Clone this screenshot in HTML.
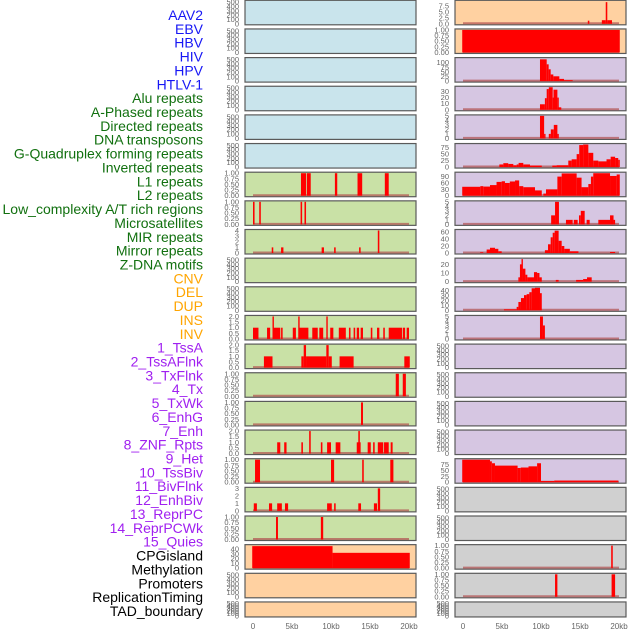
<!DOCTYPE html>
<html><head><meta charset="utf-8">
<style>
html,body{margin:0;padding:0;background:#fff;width:630px;height:630px;overflow:hidden}
svg{display:block}
</style></head>
<body>
<svg id="chart" width="630" height="630" xmlns="http://www.w3.org/2000/svg" font-family="Liberation Sans, sans-serif"></svg>
<script>
// ---- labels ----
const labelNames = ["AAV2","EBV","HBV","HIV","HPV","HTLV-1","Alu repeats","A-Phased repeats","Directed repeats","DNA transposons","G-Quadruplex forming repeats","Inverted repeats","L1 repeats","L2 repeats","Low_complexity A/T rich regions","Microsatellites","MIR repeats","Mirror repeats","Z-DNA motifs","CNV","DEL","DUP","INS","INV","1_TssA","2_TssAFlnk","3_TxFlnk","4_Tx","5_TxWk","6_EnhG","7_Enh","8_ZNF_Rpts","9_Het","10_TssBiv","11_BivFlnk","12_EnhBiv","13_ReprPC","14_ReprPCWk","15_Quies","CPGisland","Methylation","Promoters","ReplicationTiming","TAD_boundary"];
const labelGroups = [6,13,5,15,5];
const groupColors = ["#1717f5","#11700f","#ffa500","#a020f0","#000000"];

// ---- axis ----
const xTicks = [0,5,10,15,20];
const xTickLabels = ["0","5kb","10kb","15kb","20kb"];

// ---- bar data [startKb, endKb, value] ----
const L6 = [[6.15,6.8,1],[6.9,7.4,1],[10.5,10.8,1],[13.4,14.0,1],[16.9,17.4,1]];
const L7 = [[0,0.2,1],[0.8,1.0,1],[6.1,6.3,1],[6.6,6.8,1]];
const L8 = [[2.4,2.6,1],[3.6,3.9,1],[8.8,9.1,1],[10.4,10.6,1],[13.6,13.8,1],[16.0,16.2,4]];
const L11 = [[0,0.7,1],[1.8,2.2,1],[2.5,2.6,2],[2.6,3.5,1],[3.6,3.8,1],[5.1,5.5,1],[5.8,5.9,2],[5.9,7.1,1],[7.6,8.3,1],[8.5,9.0,1],[9.4,9.5,2],[9.9,10.3,1],[11.0,11.9,1],[12.3,12.5,1],[12.9,13.1,1],[13.3,13.6,1],[13.8,14.1,1],[15.1,15.3,1],[15.9,16.2,1],[16.7,16.9,1],[17.4,19.1,1],[19.2,19.5,1],[19.7,20.0,1]];
const L12 = [[1.4,2.5,1],[6.2,6.5,1],[6.5,6.8,2],[6.8,9.4,1],[9.4,9.7,2],[9.7,10.1,1],[11.1,12.9,1],[19.4,20.1,1]];
const L13 = [[18.3,18.7,1],[19.2,19.6,1]];
const L14 = [[13.85,14.1,1]];
const L15 = [[3.1,3.5,1],[4.0,4.3,1],[6.2,6.4,1],[7.2,7.4,2],[8.7,8.9,1],[9.5,10.0,1],[10.6,11.2,1],[13.3,13.8,1],[13.5,13.7,2],[14.7,15.1,1],[15.4,15.6,1],[16.0,16.7,1],[16.8,17.4,1],[17.65,17.9,1]];
const L16 = [[0.26,0.9,1],[10.0,10.4,1],[14.0,14.2,1],[17.6,18.0,1]];
const L17 = [[0.1,0.5,1],[2.05,2.45,1],[3.1,3.7,1],[4.1,4.5,1],[9.5,10.1,1],[10.4,10.6,1],[13.5,13.85,1],[15.5,15.9,1],[16.0,16.3,3]];
const L18 = [[2.95,3.2,1],[8.7,9.0,1]];
const L19 = [[-0.1,10.2,46],[10.2,20.1,32]];
const R0 = [[16.0,16.2,1.3],[17.8,18.3,1.5],[18.3,18.5,9],[18.5,19.1,1.5]];
const R1 = [[-0.1,20.1,1]];
const R2 = [[9.87,10.73,118],[10.73,10.98,91],[10.98,11.24,64],[11.24,11.58,36],[11.58,12.35,26],[12.35,12.95,12],[12.95,14.06,5]];
const R3 = [[9.87,10.5,9],[10.5,10.73,19],[10.73,11.0,34],[11.0,11.5,37],[11.5,11.6,20],[11.6,12.1,33],[12.1,12.2,20],[12.2,12.6,4]];
const R4 = [[9.87,10.4,5],[10.4,10.5,1],[11.0,11.26,1],[11.26,11.64,2],[11.64,12.1,3],[12.1,12.2,1]];
const R5 = [[4.66,5.17,10],[5.17,5.8,15],[5.8,6.45,12],[6.45,6.88,7],[6.88,7.13,10],[7.13,7.73,16],[7.73,8.59,10],[8.59,10.1,6],[11.45,12.0,6],[12.0,13.5,7],[13.5,13.93,25],[13.93,14.57,30],[14.57,14.9,50],[14.9,15.4,85],[15.4,16.07,87],[16.07,16.7,55],[16.7,17.35,25],[17.35,18.4,22],[18.4,18.93,30],[18.93,19.5,40],[19.5,19.9,35],[19.9,20.1,28]];
const R6 = [[-0.1,2.22,42],[2.22,2.6,45],[2.6,3.46,43],[3.46,4.3,50],[4.3,4.96,65],[4.96,5.38,68],[5.38,6.0,60],[6.0,6.67,67],[6.67,7.2,72],[7.2,7.73,45],[7.73,9.23,40],[9.23,10.1,25],[10.3,10.64,10],[10.64,12.1,30],[12.1,12.65,90],[12.65,14.57,105],[14.57,15.2,85],[15.2,16.07,40],[16.07,16.4,55],[16.4,16.7,90],[16.7,18.85,106],[18.85,19.7,93],[19.7,20.1,100]];
const R7 = [[11.3,11.8,2],[11.8,12.3,5],[13.2,14.06,1],[14.2,14.7,1],[14.87,15.1,2],[15.1,15.6,3],[15.85,16.24,1],[17.35,18.85,1],[18.85,19.3,2],[19.3,19.5,1]];
const R8 = [[2.2,2.6,2],[3.03,3.46,10],[3.46,4.1,15],[4.1,4.53,12],[4.53,4.96,5],[10.5,10.9,8],[10.9,11.24,25],[11.24,11.5,45],[11.5,11.75,58],[11.75,12.26,64],[12.26,12.65,35],[12.65,12.99,20],[12.99,13.7,12],[13.7,14.8,5],[18.85,19.5,3]];
const R9 = [[7.1,7.3,5],[7.3,7.5,20],[7.5,7.65,26],[7.65,8.0,15],[8.0,8.25,8],[8.25,9.1,5],[9.1,9.5,11],[9.5,9.8,10],[9.8,10.1,5],[11.9,12.26,2],[14.5,15.4,2],[15.4,15.9,3],[15.9,16.5,5]];
const R10 = [[5.25,6.88,2],[6.88,7.1,7],[7.1,7.43,17],[7.43,7.82,25],[7.82,8.16,31],[8.16,8.5,33],[8.5,8.8,37],[8.8,9.23,45],[9.23,9.87,46],[9.87,10.1,35]];
const R11 = [[9.87,10.25,5],[10.25,10.5,3]];
const R16 = [[-0.1,3.46,95],[3.46,3.7,88],[3.7,4.1,80],[4.1,7.0,70],[7.0,7.4,60],[7.4,8.4,62],[8.4,9.5,67],[9.5,10.0,80],[10.0,11.7,5],[11.7,19.9,7]];
const R19 = [[19.0,19.2,1]];
const R20 = [[11.8,12.1,1],[19.05,19.5,1]];

// ---- tick sets ----
const tEmpty = ["0","100","200","300","400","500"];
const tEmptyV = [0,100,200,300,400,500];
const t1 = ["0.00","0.25","0.50","0.75","1.00"], t1V=[0,0.25,0.5,0.75,1];
const t2 = ["0.0","0.5","1.0","1.5","2.0"], t2V=[0,0.5,1,1.5,2];

const BG = {blue:"#c9e4ec",green:"#c9e1a6",orange:"#ffd1a1",purple:"#d6c6e2",gray:"#d0d0d0"};
function ints(n){const a=[];for(let i=0;i<=n;i++)a.push(i);return a;}
function E(bg){return {bg:bg,ymax:520,tl:tEmpty,tv:tEmptyV,bars:null};}
function P(bg,ymax,tv,tl,bars){return {bg:bg,ymax:ymax,tl:tl||tv.map(String),tv:tv,bars:bars};}

const leftPanels = [E("blue"),E("blue"),E("blue"),E("blue"),E("blue"),E("blue"),
 P("green",1,t1V,t1,L6),P("green",1,t1V,t1,L7),P("green",4,ints(4),null,L8),E("green"),E("green"),
 P("green",2,t2V,t2,L11),P("green",2,t2V,t2,L12),P("green",1,t1V,t1,L13),P("green",1,t1V,t1,L14),
 P("green",2,t2V,t2,L15),P("green",1,t1V,t1,L16),P("green",3,ints(3),null,L17),P("green",1,t1V,t1,L18),
 P("orange",47,[0,10,20,30,40],null,L19),E("orange"),E("orange")];
const rightPanels = [P("orange",9.35,[0,2.5,5,7.5],["0.0","2.5","5.0","7.5"],R0),P("orange",1,t1V,t1,R1),
 P("purple",122,[0,25,50,75,100],null,R2),P("purple",37,[0,10,20,30],null,R3),P("purple",5,ints(5),null,R4),
 P("purple",87,[0,25,50,75],null,R5),P("purple",106,[0,30,60,90],null,R6),P("purple",5,ints(5),null,R7),
 P("purple",64.5,[0,20,40,60],null,R8),P("purple",26,[0,10,20],null,R9),P("purple",46,[0,10,20,30,40],null,R10),
 P("purple",5,ints(5),null,R11),E("purple"),E("purple"),E("purple"),E("purple"),
 P("purple",95,[0,25,50,75],null,R16),E("gray"),E("gray"),P("gray",1,t1V,t1,R19),P("gray",1,t1V,t1,R20),E("gray")];

const NS="http://www.w3.org/2000/svg";
const svg=document.getElementById("chart");
function mk(tag,attrs,parent){const e=document.createElementNS(NS,tag);for(const k in attrs)e.setAttribute(k,attrs[k]);(parent||svg).appendChild(e);return e;}

// labels
let li=0;
labelGroups.forEach((n,g)=>{for(let k=0;k<n;k++){const t=mk("text",{x:203,y:15+li*13.86+5,"text-anchor":"end","font-size":"14",fill:groupColors[g]});


t.textContent=labelNames[li];li++;}});

const cols=[{x0:245,w:171,name:"left"},{x0:455,w:171,name:"right"}];
function rowTop(i){return 0.3+i*28.65;}
function rowH(i){return i===21?15:24.5;}

function drawCol(col,panels){
  const xs=kb=>col.x0+8+kb*7.8;
  panels.forEach((p,i)=>{
    const top=rowTop(i),h=rowH(i);
    const g=mk("g",{});
    
    
    const r=mk("rect",{x:col.x0,y:top,width:col.w,height:h,fill:BG[p.bg],stroke:"#5a5a5a","stroke-width":"1.2"},g);
    
    
    const ys=v=>top+h-1-v/p.ymax*(h-2);
    if(p.bars){
      const bl=mk("line",{x1:xs(0),x2:xs(20),y1:top+h-1.5,y2:top+h-1.5,stroke:"#b05050","stroke-width":"2","stroke-opacity":"0.7"},g);
      
      
      p.bars.forEach(b=>{
        const x1=xs(b[0]),x2=xs(b[1]);
        const y=Math.max(top+0.6,ys(b[2]));
        const br=mk("rect",{x:x1,y:y,width:Math.max(1.4,x2-x1),height:top+h-1-y,fill:"#ff0000"},g);
        
        
      });
    }
    p.tv.forEach((v,k)=>{
      const t=mk("text",{x:col.x0-6,y:ys(v)+2.5,"text-anchor":"end","font-size":"7.5",fill:"#666"},g);
      
      
      t.textContent=p.tl[k];
    });
  });
  xTicks.forEach((v,k)=>{
    const t=mk("text",{x:xs(v),y:629,"text-anchor":"middle","font-size":"8",fill:"#666"});
    
    
    t.textContent=xTickLabels[k];
  });
}
drawCol(cols[0],leftPanels);
drawCol(cols[1],rightPanels);
</script>
</body></html>
